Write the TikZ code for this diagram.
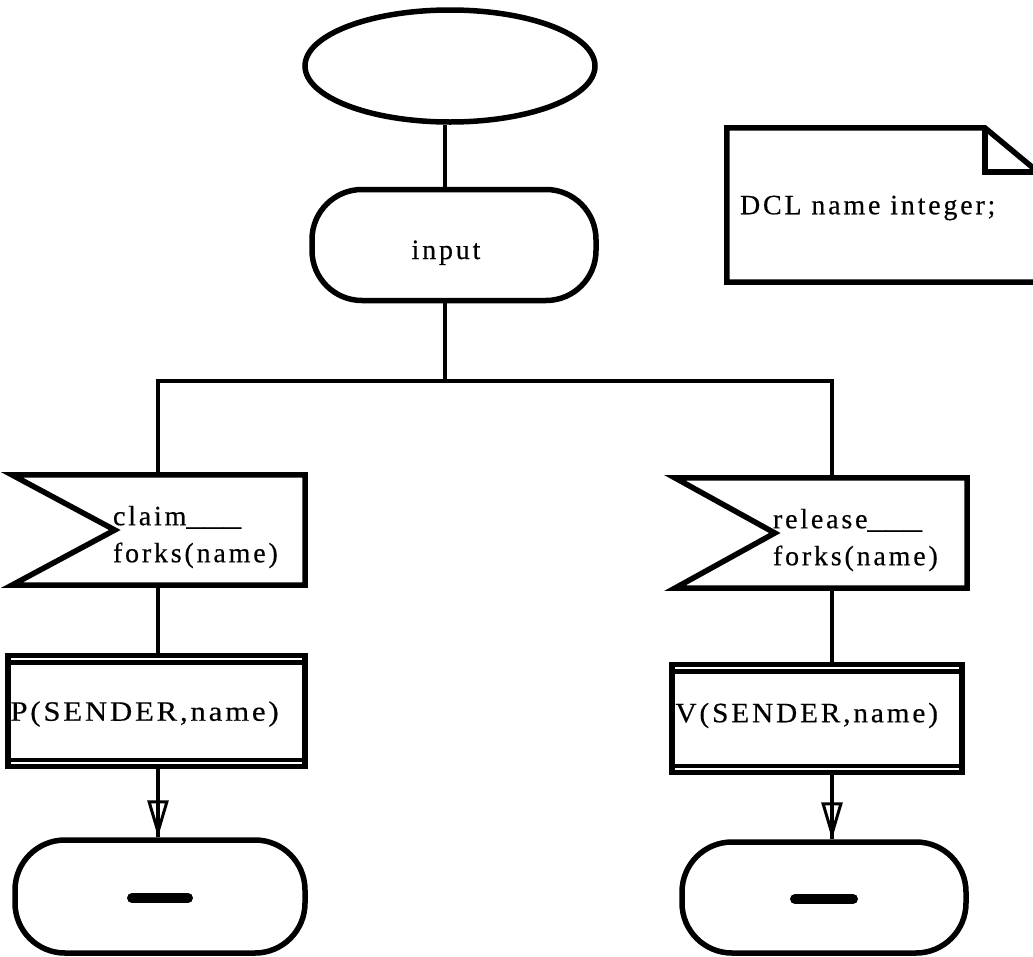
\documentclass[tikz,border=0pt]{standalone}
\usepackage{fontspec}
\setmainfont{Liberation Serif}[LetterSpace=10,FakeBold=0.4]
\usetikzlibrary{arrows.meta,shapes.geometric,calc}

\begin{document}
\begin{tikzpicture}[x=1pt,y=-1pt,
  shape line/.style={line width=5.5pt, line join=miter},
  wire/.style={line width=4.5pt},
  outline/.style={inner sep=0pt, minimum width=#1},
  terminal/.style={draw, shape line, rounded corners=50pt, inner sep=0pt,
    minimum height=111pt},
  startstate/.style={draw, shape line, ellipse, inner sep=0pt,
    minimum width=290pt, minimum height=112pt},
  procbox/.style={draw, shape line, inner sep=0pt},
  sdltext/.style={font=\fontsize{28}{37}\selectfont, inner sep=0pt},
  nextdash/.style={line width=10pt, line cap=round},
  flow/.style={wire, -{Triangle[open, length=37pt, width=21pt, line width=3pt]}},
]
\useasboundingbox (0,0) rectangle (1033,956);
\clip (0,0) rectangle (1033,956);

% start symbol and input
\node[startstate] (start) at (450,66) {};
\node[terminal, minimum width=284pt] (input) at (454,245) {};
\node[sdltext, anchor=base] (inputtext) at (446,259) {input};

% branch bus
\coordinate (split) at (445,381);
\coordinate (busL) at (158,381);
\coordinate (busR) at (832,381);

% declaration text symbol (dog-eared, runs off the right edge)
\node[outline=311pt, minimum height=154pt] (note) at (882.5,205) {};
\draw[shape line] ($(note.north west)$) -- ($(note.north west)+(258,0)$)
  -- ($(note.north west)+(311,44)$) -- (note.south east) -- (note.south west) -- cycle;
\draw[shape line] ($(note.north west)+(258,0)$) -- ($(note.north west)+(258,44)$)
  -- ($(note.north west)+(311,44)$);
\node[sdltext, anchor=west] (decl) at ($(note.west)+(13,3)$) {DCL name integer;};

% input signals
\node[outline=293pt, minimum height=110pt] (flagL) at (158.5,530) {};
\draw[shape line] (flagL.north west) -- (flagL.north east) -- (flagL.south east)
  -- (flagL.south west) -- ($(flagL.west)+(103,0)$) -- cycle;
\node[sdltext, align=left, anchor=west] (flagLtext) at ($(flagL.west)+(101,7)$)
  {claim{\addfontfeature{LetterSpace=0,FakeStretch=1.3}\_\_\_}\\forks(name)};

\node[outline=292pt, minimum height=110pt] (flagR) at (821,533) {};
\draw[shape line] (flagR.north west) -- (flagR.north east) -- (flagR.south east)
  -- (flagR.south west) -- ($(flagR.west)+(100,0)$) -- cycle;
\node[sdltext, align=left, anchor=west] (flagRtext) at ($(flagR.west)+(98,7)$)
  {release{\addfontfeature{LetterSpace=0,FakeStretch=1.3}\_\_\_}\\forks(name)};

% procedure calls
\node[procbox, minimum width=297pt, minimum height=111pt] (procL) at (156.5,711) {};
\draw[wire] ($(procL.north west)+(0,9.5)$) -- ($(procL.north east)+(0,9.5)$);
\draw[wire] ($(procL.south west)+(0,-9.5)$) -- ($(procL.south east)+(0,-9.5)$);
\node[sdltext, anchor=west] (procLtext) at ($(procL.west)+(5,3)$)
  {\addfontfeature{FakeStretch=1.1}P(SENDER,name)};

\node[procbox, minimum width=290pt, minimum height=108pt] (procR) at (817,718.5) {};
\draw[wire] ($(procR.north west)+(0,9.5)$) -- ($(procR.north east)+(0,9.5)$);
\draw[wire] ($(procR.south west)+(0,-9.5)$) -- ($(procR.south east)+(0,-9.5)$);
\node[sdltext, anchor=west] (procRtext) at ($(procR.west)+(6,-3)$)
  {\addfontfeature{FakeStretch=1.05}V(SENDER,name)};

% next-state symbols
\node[terminal, minimum width=290pt, minimum height=113pt] (stopL) at (160,896.5) {};
\draw[nextdash] ($(stopL.center)+(-28,1.5)$) -- ($(stopL.center)+(28,1.5)$);
\node[terminal, minimum width=284pt] (stopR) at (824,897.5) {};
\draw[nextdash] ($(stopR.center)+(-29,1.5)$) -- ($(stopR.center)+(29,1.5)$);

% connectors
\draw[wire] (start.south -| split) -- (input.north -| split);
\draw[wire] (input.south -| split) -- (split);
\draw[wire] (busL |- flagL.north) -- (busL) -- (busR) -- (busR |- flagR.north);
\draw[wire] (flagL.south -| busL) -- (procL.north -| busL);
\draw[wire] (flagR.south -| busR) -- (procR.north -| busR);
\draw[wire] (procL.south -| busL) -- (stopL.north -| busL);
\draw[flow] (procL.south -| busL) -- (stopL.north -| busL);
\draw[wire] (procR.south -| busR) -- (stopR.north -| busR);
\draw[flow] (procR.south -| busR) -- (stopR.north -| busR);
\end{tikzpicture}
\end{document}
